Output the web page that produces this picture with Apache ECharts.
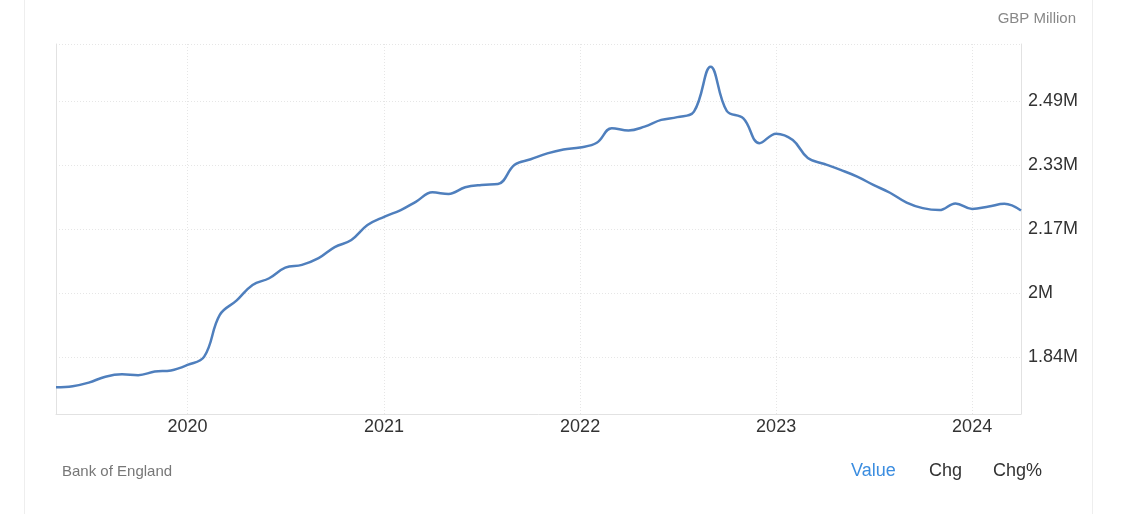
<!DOCTYPE html>
<html>
<head>
<meta charset="utf-8">
<script src="https://cdn.jsdelivr.net/npm/echarts@6/dist/echarts.min.js"></script>
<style>
  html, body { margin: 0; padding: 0; background: #fff; }
  #wrap { position: relative; width: 1138px; height: 517px; }
  #card { position: absolute; left: 24px; top: 0; width: 1069px; height: 514px;
          border-left: 1px solid #eeeeee; border-right: 1px solid #eeeeee; box-sizing: border-box; }
  #chart { position: absolute; left: 0; top: 0; width: 1138px; height: 517px; }
</style>
</head>
<body>
<div id="wrap">
  <div id="card"></div>
  <div id="chart"></div>
</div>
<script>
// Monthly data, May 2019 .. Apr 2024 (values in GBP Million, shown in millions "M")
const startYear = 2019, startMonth = 5;
const values2019 = [1.763, 1.766, 1.775, 1.790, 1.796, 1.794, 1.803, 1.806];
const values2020 = [1.820, 1.841, 1.947, 1.983, 2.023, 2.040, 2.067, 2.074, 2.091, 2.119, 2.137, 2.175];
const values2021 = [2.196, 2.213, 2.234, 2.258, 2.254, 2.271, 2.277, 2.279, 2.328, 2.342, 2.357, 2.367];
const values2022 = [2.372, 2.384, 2.421, 2.415, 2.425, 2.442, 2.449, 2.463, 2.577, 2.465, 2.446, 2.383];
const values2023 = [2.407, 2.391, 2.345, 2.330, 2.315, 2.298, 2.277, 2.257, 2.232, 2.218, 2.213, 2.230];
const values2024 = [2.216, 2.222, 2.229, 2.212];

const yTickValues = [1.84, 2.0025, 2.165, 2.3275, 2.49];
const yTickLabels = ['1.84M', '2M', '2.17M', '2.33M', '2.49M'];
const yMin = 1.6953, yMax = 2.6347;
const xTickYears = [2020, 2021, 2022, 2023, 2024];
const xMinDate = [2019, 5], xMaxDate = [2024, 4];

function ts(y, m) { return Date.UTC(y, m - 1, 1); }

const allValues = [].concat(values2019, values2020, values2021, values2022, values2023, values2024);
const seriesData = allValues.map(function (v, i) {
  const m0 = startMonth - 1 + i;
  return [ts(startYear + Math.floor(m0 / 12), (m0 % 12) + 1), v];
});
const xTickTimes = xTickYears.map(function (y) { return ts(y, 1); });

const FONT = '"Liberation Sans", Arial, sans-serif';
const chart = echarts.init(document.getElementById('chart'), null, { renderer: 'canvas' });
chart.setOption({
  animation: false,
  textStyle: { fontFamily: FONT },
  grid: { left: 56, right: 117, top: 44, bottom: 103, containLabel: false },
  xAxis: {
    type: 'value',
    min: ts(xMinDate[0], xMinDate[1]),
    max: ts(xMaxDate[0], xMaxDate[1]),
    axisLine: { show: true, onZero: false, lineStyle: { color: '#e2e2e2', width: 1 } },
    axisTick: { show: false, customValues: xTickTimes },
    axisLabel: {
      customValues: xTickTimes,
      color: '#333', fontSize: 18, fontFamily: FONT, margin: 4,
      formatter: function (v) { return String(new Date(v).getUTCFullYear()); }
    },
    splitLine: { show: true, lineStyle: { color: '#e6e6e6', type: [1, 2], width: 1 } }
  },
  yAxis: [{
    type: 'value',
    position: 'right',
    min: yMin,
    max: yMax,
    axisLine: { show: true, onZero: false, lineStyle: { color: '#e2e2e2', width: 1 } },
    axisTick: { show: false, customValues: yTickValues.concat([yMax]) },
    axisLabel: {
      customValues: yTickValues,
      color: '#333', fontSize: 18, fontFamily: FONT, margin: 7,
      formatter: function (v) {
        let best = 0;
        for (let i = 1; i < yTickValues.length; i++) {
          if (Math.abs(yTickValues[i] - v) < Math.abs(yTickValues[best] - v)) best = i;
        }
        return yTickLabels[best];
      }
    },
    splitLine: { show: true, lineStyle: { color: '#e6e6e6', type: [1, 2], width: 1 } }
  }, {
    type: 'value',
    position: 'left',
    min: yMin,
    max: yMax,
    axisLine: { show: true, onZero: false, lineStyle: { color: '#e2e2e2', width: 1 } },
    axisTick: { show: false },
    axisLabel: { show: false },
    splitLine: { show: false }
  }],
  series: [{
    type: 'line',
    yAxisIndex: 0,
    data: seriesData,
    showSymbol: false,
    smooth: 0.4,
    lineStyle: { color: '#4f7fbd', width: 2.5 },
    itemStyle: { color: '#4f7fbd' }
  }],
  graphic: [
    { type: 'text', right: 62, top: 11, style: { text: 'GBP Million', fill: '#888', font: '15px ' + FONT } },
    { type: 'text', left: 62, top: 464, style: { text: 'Bank of England', fill: '#777', font: '15px ' + FONT } },
    { type: 'text', left: 851, top: 462, style: { text: 'Value', fill: '#3b8de0', font: '18px ' + FONT } },
    { type: 'text', left: 929, top: 462, style: { text: 'Chg', fill: '#333', font: '18px ' + FONT } },
    { type: 'text', left: 993, top: 462, style: { text: 'Chg%', fill: '#333', font: '18px ' + FONT } }
  ]
});
</script>
</body>
</html>
